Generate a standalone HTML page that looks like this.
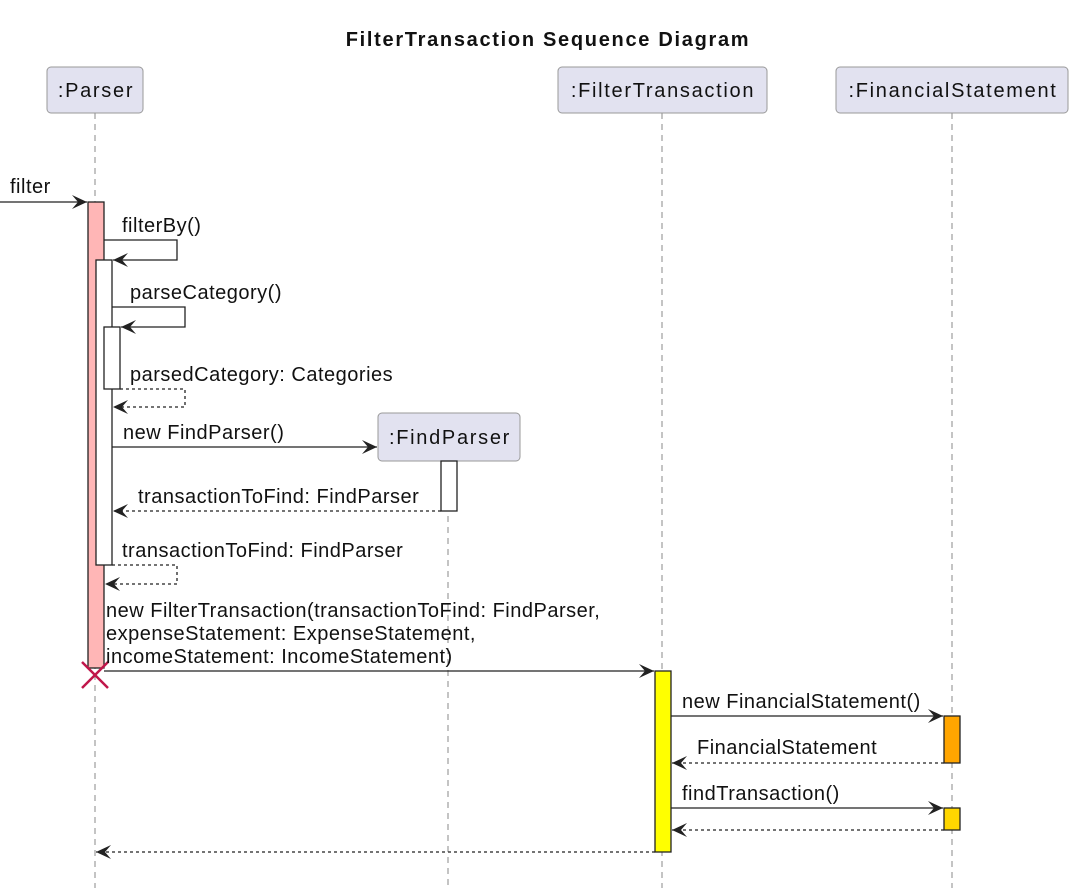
<!DOCTYPE html>
<html><head><style>
html,body{margin:0;padding:0;background:#fff;}
svg text{font-family:"Liberation Sans",sans-serif;font-size:20px;letter-spacing:0.5px;fill:#111;}
svg text.b{font-size:20px;letter-spacing:1.7px;}
</style></head><body>
<svg width="1074" height="888" viewBox="0 0 1074 888" xmlns="http://www.w3.org/2000/svg">
<defs>
<marker id="a" markerWidth="16" markerHeight="14" refX="15" refY="7" orient="auto" markerUnits="userSpaceOnUse">
<path d="M0,0 L15,7 L0,14 L6,7 Z" fill="#222"/>
</marker>
</defs>
<text x="548" y="46" text-anchor="middle" style="font-weight:bold;font-size:20px;letter-spacing:1.7px">FilterTransaction Sequence Diagram</text>
<g stroke="#888" stroke-width="1" stroke-dasharray="6,5">
<line x1="95" y1="113" x2="95" y2="888"/>
<line x1="662" y1="113" x2="662" y2="888"/>
<line x1="952" y1="113" x2="952" y2="888"/>
<line x1="448" y1="461" x2="448" y2="888"/>
</g>
<g fill="#e2e2f0" stroke="#999" stroke-width="1">
<rect x="47" y="67" width="96" height="46" rx="4"/>
<rect x="558" y="67" width="209" height="46" rx="4"/>
<rect x="836" y="67" width="232" height="46" rx="4"/>
<rect x="378" y="413" width="142" height="48" rx="4"/>
</g>
<text class="b" x="96" y="97" text-anchor="middle">:Parser</text>
<text class="b" x="663" y="97" text-anchor="middle">:FilterTransaction</text>
<text class="b" x="953" y="97" text-anchor="middle">:FinancialStatement</text>
<text class="b" x="450" y="444" text-anchor="middle">:FindParser</text>
<g stroke="#222" stroke-width="1.3">
<rect x="88" y="202" width="16" height="466" fill="#ffb6b6"/>
<rect x="96" y="260" width="16" height="305" fill="#fff"/>
<rect x="104" y="327" width="16" height="62" fill="#fff"/>
<rect x="441" y="461" width="16" height="50" fill="#fff"/>
<rect x="655" y="671" width="16" height="181" fill="#ffff00"/>
<rect x="944" y="716" width="16" height="47" fill="#ffa500"/>
<rect x="944" y="808" width="16" height="22" fill="#ffd700"/>
</g>
<g stroke="#222" stroke-width="1.3" fill="none">
<line x1="0" y1="202" x2="87" y2="202" marker-end="url(#a)"/>
<polyline points="104,240 177,240 177,260 113,260" marker-end="url(#a)"/>
<polyline points="112,307 185,307 185,327 121,327" marker-end="url(#a)"/>
<polyline points="120,389 185,389 185,407 113,407" stroke-dasharray="3,3" marker-end="url(#a)"/>
<line x1="112" y1="447" x2="377" y2="447" marker-end="url(#a)"/>
<line x1="441" y1="511" x2="113" y2="511" stroke-dasharray="3,3" marker-end="url(#a)"/>
<polyline points="112,565 177,565 177,584 105,584" stroke-dasharray="3,3" marker-end="url(#a)"/>
<line x1="104" y1="671" x2="654" y2="671" marker-end="url(#a)"/>
<line x1="671" y1="716" x2="943" y2="716" marker-end="url(#a)"/>
<line x1="944" y1="763" x2="672" y2="763" stroke-dasharray="3,3" marker-end="url(#a)"/>
<line x1="671" y1="808" x2="943" y2="808" marker-end="url(#a)"/>
<line x1="944" y1="830" x2="672" y2="830" stroke-dasharray="3,3" marker-end="url(#a)"/>
<line x1="655" y1="852" x2="96" y2="852" stroke-dasharray="3,3" marker-end="url(#a)"/>
</g>
<g stroke="#c0164a" stroke-width="2.5">
<line x1="82" y1="662" x2="108" y2="688"/>
<line x1="108" y1="662" x2="82" y2="688"/>
</g>
<text x="10" y="193">filter</text>
<text x="122" y="232">filterBy()</text>
<text x="130" y="299">parseCategory()</text>
<text x="130" y="381">parsedCategory: Categories</text>
<text x="123" y="439">new FindParser()</text>
<text x="138" y="503">transactionToFind: FindParser</text>
<text x="122" y="557">transactionToFind: FindParser</text>
<text x="106" y="617">new FilterTransaction(transactionToFind: FindParser,</text>
<text x="106" y="640">expenseStatement: ExpenseStatement,</text>
<text x="106" y="663">incomeStatement: IncomeStatement)</text>
<text x="682" y="708">new FinancialStatement()</text>
<text x="697" y="754">FinancialStatement</text>
<text x="682" y="800">findTransaction()</text>
</svg>
</body></html>
